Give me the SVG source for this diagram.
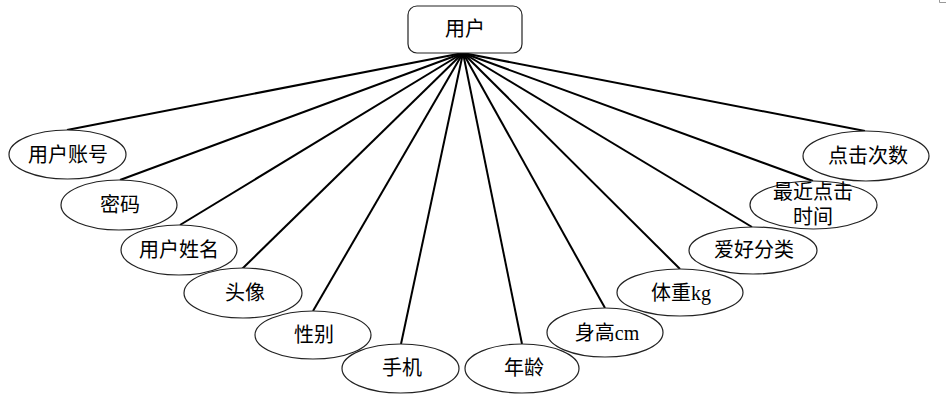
<svg xmlns="http://www.w3.org/2000/svg" width="946" height="402" viewBox="0 0 946 402">
<style>
.n{fill:#fff;stroke:#222;stroke-width:1.2}
.t{font-family:"Liberation Serif","Noto Sans CJK SC",serif;font-size:20px;fill:#000;text-anchor:middle}
.c line{stroke:#000;stroke-width:2}
</style>
<rect width="946" height="402" fill="#fff"/>
<path d="M939.5 0V2.5H946" fill="none" stroke="#999" stroke-width="1"/>
<g class="c" id="connectors">
<line x1="463" y1="53" x2="67" y2="130"/>
<line x1="463" y1="53" x2="120" y2="180"/>
<line x1="463" y1="53" x2="180" y2="225"/>
<line x1="463" y1="53" x2="242" y2="269"/>
<line x1="463" y1="53" x2="313" y2="311"/>
<line x1="463" y1="53" x2="401" y2="344"/>
<line x1="463" y1="53" x2="522" y2="344"/>
<line x1="463" y1="53" x2="605" y2="308"/>
<line x1="463" y1="53" x2="680" y2="269"/>
<line x1="463" y1="53" x2="752" y2="227"/>
<line x1="463" y1="53" x2="813" y2="181"/>
<line x1="463" y1="53" x2="865" y2="131"/>
</g>
<g id="user"><rect class="n" x="408" y="6" width="114" height="47" rx="9"/><text class="t" x="465" y="36">用户</text></g>
<g id="account"><ellipse class="n" cx="67.5" cy="154.5" rx="58.5" ry="24.5"/><text class="t" x="68" y="162">用户账号</text></g>
<g id="password"><ellipse class="n" cx="119" cy="205" rx="58" ry="25"/><text class="t" x="120" y="212">密码</text></g>
<g id="username"><ellipse class="n" cx="179" cy="250" rx="58" ry="25"/><text class="t" x="179" y="257">用户姓名</text></g>
<g id="avatar"><ellipse class="n" cx="243" cy="293" rx="59" ry="25"/><text class="t" x="245" y="300">头像</text></g>
<g id="gender"><ellipse class="n" cx="313" cy="335" rx="58" ry="24"/><text class="t" x="314" y="342">性别</text></g>
<g id="phone"><ellipse class="n" cx="400.5" cy="368.5" rx="58.5" ry="24.5"/><text class="t" x="402" y="375">手机</text></g>
<g id="age"><ellipse class="n" cx="522" cy="368.5" rx="57" ry="24.5"/><text class="t" x="524" y="375">年龄</text></g>
<g id="height"><ellipse class="n" cx="605" cy="332.5" rx="58" ry="24.5"/><text class="t" x="607" y="340">身高cm</text></g>
<g id="weight"><ellipse class="n" cx="680" cy="292.5" rx="63" ry="23.5"/><text class="t" x="681" y="300">体重kg</text></g>
<g id="hobby"><ellipse class="n" cx="753" cy="250.5" rx="64" ry="23.5"/><text class="t" x="754" y="257">爱好分类</text></g>
<g id="lastclick"><ellipse class="n" cx="813.5" cy="205" rx="63.5" ry="24"/><text class="t" x="813" y="199">最近点击</text><text class="t" x="813" y="224">时间</text></g>
<g id="clicks"><ellipse class="n" cx="866" cy="156" rx="63" ry="25"/><text class="t" x="868" y="163">点击次数</text></g>
</svg>
